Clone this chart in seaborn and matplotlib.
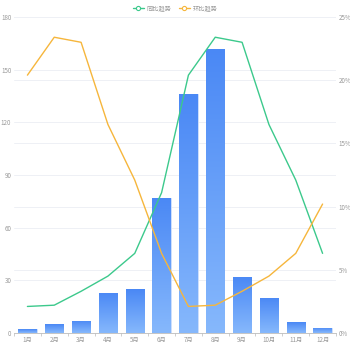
import numpy as np
import pandas as pd
import matplotlib
matplotlib.use("Agg")
import matplotlib.pyplot as plt
from matplotlib.lines import Line2D
from matplotlib.colors import LinearSegmentedColormap
import seaborn as sns

months = ["1月", "2月", "3月", "4月", "5月", "6月", "7月", "8月", "9月", "10月", "11月", "12月"]
volume = [2, 5, 7, 23, 25, 77, 136, 162, 32, 20, 6, 3]
yoy_pct = [2.1, 2.2, 3.3, 4.5, 6.3, 11.1, 20.4, 23.4, 23.0, 16.5, 12.1, 6.3]
mom_pct = [20.4, 23.4, 23.0, 16.5, 12.1, 6.3, 2.1, 2.2, 3.3, 4.5, 6.3, 10.2]
left_ticks = [0, 30, 60, 90, 120, 150, 180]
right_ticks = [0, 5, 10, 15, 20, 25]

sns.set_theme(style="white")
plt.rcParams["font.family"] = ["Noto Sans CJK SC", "DejaVu Sans"]

GREEN = "#3cc98c"
ORANGE = "#f6b63c"
GRID = "#eef0f5"
TEXT = "#999999"
LEFT_MAX, RIGHT_MAX = 180, 25

df = pd.DataFrame({"month": months, "volume": volume, "yoy": yoy_pct, "mom": mom_pct})

fig = plt.figure(figsize=(3.5, 3.5), dpi=100)
ax = fig.add_axes([0.04, 0.0486, 0.92, 0.9028])

# grid lines of both value axes, kept behind the bars
for v in left_ticks[1:]:
    ax.axhline(v, color=GRID, lw=0.7, zorder=0)
for v in right_ticks[1:]:
    ax.axhline(v / RIGHT_MAX * LEFT_MAX, color=GRID, lw=0.7, zorder=0)

sns.barplot(data=df, x="month", y="volume", ax=ax, width=0.68,
            color="#5b97f7", saturation=1, zorder=2)

# vertical gradient fill inside each bar
cmap = LinearSegmentedColormap.from_list("barfade", ["#86b8fc", "#4a88f5"])
grad = np.linspace(0, 1, 256).reshape(-1, 1)
for p in list(ax.patches):
    x0, y0 = p.get_x(), p.get_y()
    w, h = p.get_width(), p.get_height()
    im = ax.imshow(grad, cmap=cmap, origin="lower", aspect="auto",
                   extent=[x0, x0 + w, y0, y0 + h], zorder=2.1)
    im.set_clip_path(p)
    p.set_edgecolor("#d3e3fd")
    p.set_linewidth(0.6)
ax.set_xlim(-0.5, 11.5)
ax.set_ylim(0, LEFT_MAX)

ax2 = ax.twinx()
sns.lineplot(x=np.arange(12), y=df["yoy"], ax=ax2, color=GREEN, lw=1.0, zorder=3)
sns.lineplot(x=np.arange(12), y=df["mom"], ax=ax2, color=ORANGE, lw=1.0, zorder=3)
ax2.set_ylim(0, RIGHT_MAX)
ax2.set_xlim(-0.5, 11.5)
ax2.set_zorder(ax.get_zorder() + 1)
ax2.patch.set_visible(False)

ax.set_yticks(left_ticks)
ax.set_yticklabels([str(v) for v in left_ticks])
ax2.set_yticks(right_ticks)
ax2.set_yticklabels([f"{v}%" for v in right_ticks])
ax.set_xticks(range(12))
ax.set_xticklabels(months)
ax.set_xticks(np.arange(-0.5, 12, 1), minor=True)

ax.tick_params(axis="y", length=0, pad=2, labelsize=4.5, labelcolor=TEXT)
ax2.tick_params(axis="y", length=0, pad=2, labelsize=4.5, labelcolor=TEXT)
ax.tick_params(axis="x", which="major", length=0, pad=2, labelsize=4.5, labelcolor=TEXT)
ax.tick_params(axis="x", which="minor", length=2, width=0.5, color="#bbbbbb", bottom=True)
ax.set_xlabel("")
ax.set_ylabel("")
ax2.set_ylabel("")

for a in (ax, ax2):
    for s in ("top", "left", "right", "bottom"):
        a.spines[s].set_visible(False)
ax.spines["bottom"].set_visible(True)
ax.spines["bottom"].set_color("#bbbbbb")
ax.spines["bottom"].set_linewidth(0.6)

handles = [
    Line2D([0], [0], color=GREEN, lw=1.0, marker="o", markersize=3,
           markerfacecolor="white", markeredgecolor=GREEN, markeredgewidth=0.8),
    Line2D([0], [0], color=ORANGE, lw=1.0, marker="o", markersize=3,
           markerfacecolor="white", markeredgecolor=ORANGE, markeredgewidth=0.8),
]
fig.legend(handles, ["同比趋势", "环比趋势"], loc="upper center",
           bbox_to_anchor=(0.5, 1.0), ncol=2, frameon=False, fontsize=4.5,
           labelcolor=TEXT, handlelength=1.8, columnspacing=1.2, handletextpad=0.4,
           borderaxespad=0.2)

fig.savefig("out.png", dpi=100, facecolor="white")
